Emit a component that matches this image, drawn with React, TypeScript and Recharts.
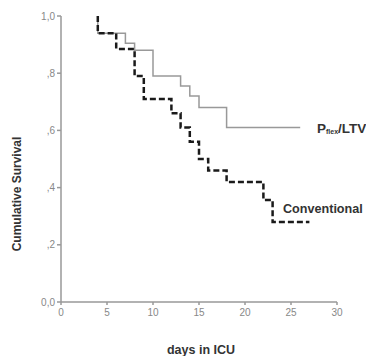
import React from "react";
import { LineChart, Line, XAxis, YAxis, Customized } from "recharts";

const pflexDays = [4, 4, 7, 8, 10, 13, 14, 15, 18, 26];
const pflexSurv = [1.0, 0.94, 0.905, 0.88, 0.79, 0.755, 0.72, 0.68, 0.61, 0.61];

const convDays = [4, 4, 6, 8, 9, 12, 13, 14, 15, 16, 18, 22, 23, 27];
const convSurv = [1.0, 0.94, 0.885, 0.79, 0.71, 0.66, 0.61, 0.56, 0.5, 0.46, 0.42, 0.357, 0.28, 0.28];

const xTicks = [0, 5, 10, 15, 20, 25, 30];
const yTicks = [0, 0.2, 0.4, 0.6, 0.8, 1.0];
const yTickLabels = ["0,0", ",2", ",4", ",6", ",8", "1,0"];

const pflexData = pflexDays.map((d, i) => ({ day: d, s: pflexSurv[i] }));
const convData = convDays.map((d, i) => ({ day: d, s: convSurv[i] }));

const FONT = "'Liberation Sans', Arial, sans-serif";

const Labels = () => (
  <g fontFamily={FONT} fontWeight="bold" fill="#333">
    <text x={9} y={186} fontSize={12} textAnchor="middle" transform="rotate(-90 9 186)" dominantBaseline="central">
      Cumulative Survival
    </text>
    <text x={193} y={342} fontSize={12.5} textAnchor="middle" dominantBaseline="central">
      days in ICU
    </text>
    <text x={275} y={201} fontSize={12.6} dominantBaseline="central">
      Conventional
    </text>
    <text x={309} y={120} fontSize={13.5} dominantBaseline="central">
      P<tspan fontSize={7} dy={3}>flex</tspan>
      <tspan dy={-3}>/LTV</tspan>
    </text>
  </g>
);

export default function App() {
  return (
    <LineChart width={366} height={348} margin={{ top: 8, right: 37, left: 0, bottom: 0 }}>
      <XAxis
        type="number"
        dataKey="day"
        domain={[0, 30]}
        ticks={xTicks}
        allowDuplicatedCategory={false}
        height={54}
        stroke="#999"
        strokeWidth={1.5}
        tickSize={3}
        tickMargin={4}
        tick={{ fill: "#888", fontSize: 10, fontFamily: FONT }}
      />
      <YAxis
        type="number"
        dataKey="s"
        domain={[0, 1]}
        ticks={yTicks}
        width={53}
        stroke="#999"
        strokeWidth={1.5}
        tickSize={4}
        tickMargin={2}
        tickFormatter={(v: number) => yTickLabels[yTicks.findIndex((t) => Math.abs(t - v) < 1e-6)] ?? String(v)}
        tick={{ fill: "#888", fontSize: 10, fontFamily: FONT }}
      />
      <Line
        data={pflexData}
        dataKey="s"
        type="stepAfter"
        stroke="#999"
        strokeWidth={1.5}
        dot={false}
        isAnimationActive={false}
      />
      <Line
        data={convData}
        dataKey="s"
        type="stepAfter"
        stroke="#1a1a1a"
        strokeWidth={2.5}
        strokeDasharray="6 3"
        dot={false}
        isAnimationActive={false}
      />
      <Customized component={Labels} />
    </LineChart>
  );
}
